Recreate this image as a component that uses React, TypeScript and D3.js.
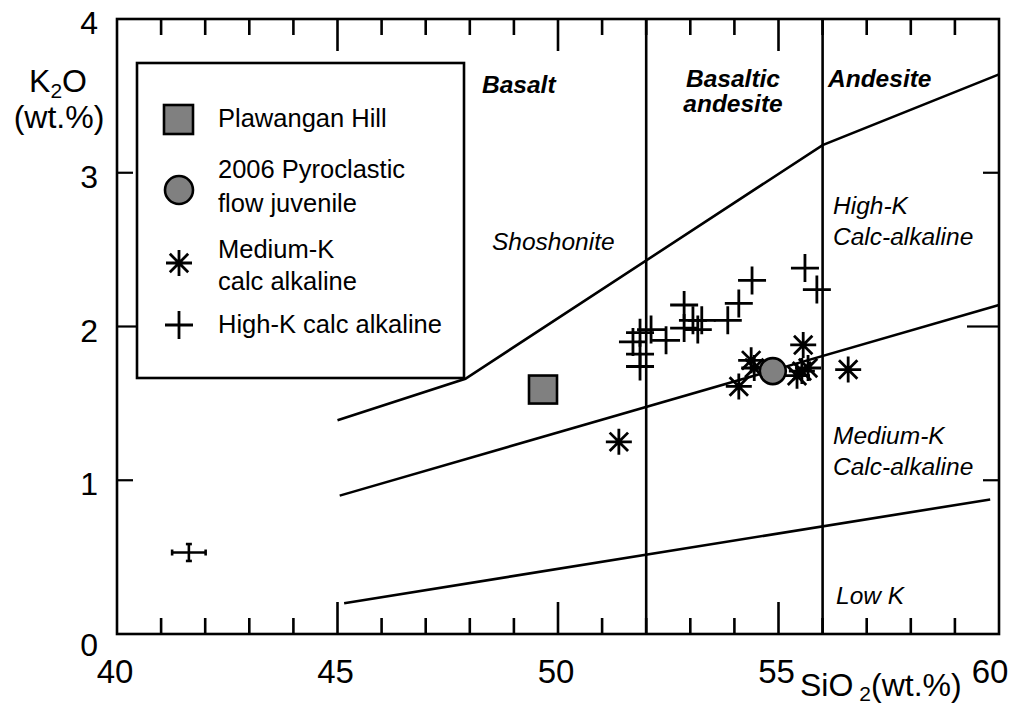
import React from 'react';
import * as d3 from 'd3';

// SiO2 / K2O pairs
const plawanganHill = [[49.66, 1.59]];
const pyroclastic2006 = [[54.87, 1.71]];
const mediumK = [
  [51.38, 1.25], [54.38, 1.78], [54.45, 1.73], [54.1, 1.61], [55.56, 1.88],
  [55.42, 1.68], [55.67, 1.73], [55.53, 1.71], [56.58, 1.72],
];
const highK = [
  [51.7, 1.9], [51.86, 1.96], [52.11, 1.98], [51.86, 1.82], [51.86, 1.74],
  [52.45, 1.91], [52.86, 2.14], [52.86, 1.99], [53.06, 2.04], [53.26, 2.04],
  [53.17, 1.98], [53.85, 2.04], [54.1, 2.15], [54.4, 2.3], [55.6, 2.38], [55.87, 2.24],
];
// analytical error bar: [x, y, xErr, yErr]
const errorBar = [41.63, 0.53, 0.38, 0.055];

// series boundaries (Peccerillo & Taylor style)
const shoshoniteLine = [[45, 1.39], [47.9, 1.66], [56, 3.18], [60, 3.64]];
const highKLine = [[45.05, 0.9], [60, 2.14]];
const lowKLine = [[45.15, 0.2], [59.8, 0.875]];
const rockBoundaries = [52, 56];

const xMajor = [45, 50, 55];
const yTickLabels = ['0', '1', '2', '3', '4'];
const xTickLabels = ['40', '45', '50', '55', '60'];

const FONT = "Arial, 'Liberation Sans', sans-serif";

function asterisk(r: number) {
  const a = r * 0.7071;
  return `M${-r},0L${r},0M0,${-r}L0,${r}M${-a},${-a}L${a},${a}M${-a},${a}L${a},${-a}`;
}
function plus(r: number) {
  return `M${-r},0L${r},0M0,${-r}L0,${r}`;
}

export default function App() {
  const x = d3.scaleLinear().domain([40, 60]).range([117, 999]);
  const y = d3.scaleLinear().domain([0, 4]).range([634, 19]);
  const line = d3.line<number[]>().x(d => x(d[0])).y(d => y(d[1]));

  const xt = x.ticks(20);
  const yt = y.ticks(4);
  const [ex, ey, exErr, eyErr] = errorBar;

  return (
    <svg width={1019} height={704} style={{ position: 'absolute', left: 0, top: 0, background: '#fff' }}
      fontFamily={FONT}>
      {/* frame */}
      <rect x={x(40)} y={y(4)} width={x(60) - x(40)} height={y(0) - y(4)} fill="none" stroke="#000" strokeWidth={2.6} />

      {/* top & bottom ticks */}
      {xt.filter(d => d > 40 && d < 60).map(d => {
        const len = xMajor.includes(d) ? 32 : 16;
        return (
          <g key={'xt' + d} stroke="#000" strokeWidth={2.6}>
            <line x1={x(d)} x2={x(d)} y1={y(0)} y2={y(0) - len} />
            <line x1={x(d)} x2={x(d)} y1={y(4)} y2={y(4) + len} />
          </g>
        );
      })}
      {/* left & right ticks */}
      {yt.filter(d => d > 0 && d < 4).map(d => (
        <g key={'yt' + d} stroke="#000" strokeWidth={2.2}>
          <line x1={x(40)} x2={x(40) + (d === 2 ? 20 : 16)} y1={y(d)} y2={y(d)} />
          <line x1={x(60)} x2={x(60) - (d === 2 ? 32 : 16)} y1={y(d)} y2={y(d)} />
        </g>
      ))}

      {/* tick labels */}
      {xTickLabels.map(t => (
        <text key={'xl' + t} x={x(+t) - (t === '60' ? 9 : 2)} y={683} fontSize={33} textAnchor="middle">{t}</text>
      ))}
      {yTickLabels.map(t => (
        <text key={'yl' + t} x={98} y={y(+t) + (t === '0' ? 22 : 15)} fontSize={32} textAnchor="end">{t}</text>
      ))}

      {/* axis titles */}
      <text x={58} y={92} fontSize={32} textAnchor="middle">
        <tspan>K</tspan><tspan fontSize={21} dy={6}>2</tspan><tspan dy={-6}>O</tspan>
      </text>
      <text x={59} y={128} fontSize={32} textAnchor="middle">(wt.%)</text>
      <text x={800} y={696} fontSize={32}>
        <tspan>SiO</tspan><tspan fontSize={21} dx={6} dy={5}>2</tspan><tspan dy={-5}>(wt.%)</tspan>
      </text>

      {/* boundaries */}
      {rockBoundaries.map(b => (
        <line key={'b' + b} x1={x(b)} x2={x(b)} y1={y(0)} y2={y(4)} stroke="#000" strokeWidth={2.6} />
      ))}
      {[shoshoniteLine, highKLine, lowKLine].map((l, i) => (
        <path key={'l' + i} d={line(l) || ''} fill="none" stroke="#000" strokeWidth={2.6} />
      ))}

      {/* field labels */}
      <g fontSize={24.5} fontWeight="bold" fontStyle="italic">
        <text x={482} y={93}>Basalt</text>
        <text x={733} y={87} textAnchor="middle">Basaltic</text>
        <text x={733} y={112} textAnchor="middle">andesite</text>
        <text x={828} y={87}>Andesite</text>
      </g>
      <g fontSize={24.5} fontStyle="italic">
        <text x={492} y={250}>Shoshonite</text>
        <text x={833} y={214}>High-K</text>
        <text x={833} y={245}>Calc-alkaline</text>
        <text x={833} y={444}>Medium-K</text>
        <text x={833} y={475}>Calc-alkaline</text>
        <text x={836} y={604}>Low K</text>
      </g>

      {/* error bar */}
      <g stroke="#000" strokeWidth={2.6}>
        <line x1={x(ex - exErr)} x2={x(ex + exErr)} y1={y(ey)} y2={y(ey)} />
        <line x1={x(ex)} x2={x(ex)} y1={y(ey - eyErr)} y2={y(ey + eyErr)} />
        <line x1={x(ex - exErr)} x2={x(ex - exErr)} y1={y(ey) - 3} y2={y(ey) + 3} />
        <line x1={x(ex + exErr)} x2={x(ex + exErr)} y1={y(ey) - 3} y2={y(ey) + 3} />
        <line x1={x(ex) - 3} x2={x(ex) + 3} y1={y(ey - eyErr)} y2={y(ey - eyErr)} />
        <line x1={x(ex) - 3} x2={x(ex) + 3} y1={y(ey + eyErr)} y2={y(ey + eyErr)} />
      </g>

      {/* data */}
      {highK.map((d, i) => (
        <path key={'h' + i} d={plus(14)} transform={`translate(${x(d[0])},${y(d[1])})`} stroke="#000" strokeWidth={2.8} fill="none" />
      ))}
      {mediumK.map((d, i) => (
        <path key={'m' + i} d={asterisk(13)} transform={`translate(${x(d[0])},${y(d[1])})`} stroke="#000" strokeWidth={2.8} fill="none" />
      ))}
      {plawanganHill.map((d, i) => (
        <rect key={'p' + i} x={x(d[0]) - 14} y={y(d[1]) - 14} width={28} height={28} fill="#808080" stroke="#000" strokeWidth={2.6} />
      ))}
      {pyroclastic2006.map((d, i) => (
        <circle key={'c' + i} cx={x(d[0])} cy={y(d[1])} r={13} fill="#808080" stroke="#000" strokeWidth={2.6} />
      ))}

      {/* legend */}
      <g>
        <rect x={137} y={63} width={327} height={315} fill="#fff" stroke="#000" strokeWidth={2.6} />
        <rect x={164} y={105} width={29} height={29} fill="#808080" stroke="#000" strokeWidth={2.6} />
        <circle cx={179} cy={190} r={14} fill="#808080" stroke="#000" strokeWidth={2.6} />
        <path d={asterisk(13)} transform="translate(179,263)" stroke="#000" strokeWidth={2.8} fill="none" />
        <path d={plus(14)} transform="translate(179,325)" stroke="#000" strokeWidth={2.8} fill="none" />
        <g fontSize={25.5}>
          <text x={218} y={127}>Plawangan Hill</text>
          <text x={218} y={178}>2006 Pyroclastic</text>
          <text x={218} y={212}>flow juvenile</text>
          <text x={218} y={258}>Medium-K</text>
          <text x={218} y={290}>calc alkaline</text>
          <text x={218} y={333}>High-K calc alkaline</text>
        </g>
      </g>
    </svg>
  );
}
